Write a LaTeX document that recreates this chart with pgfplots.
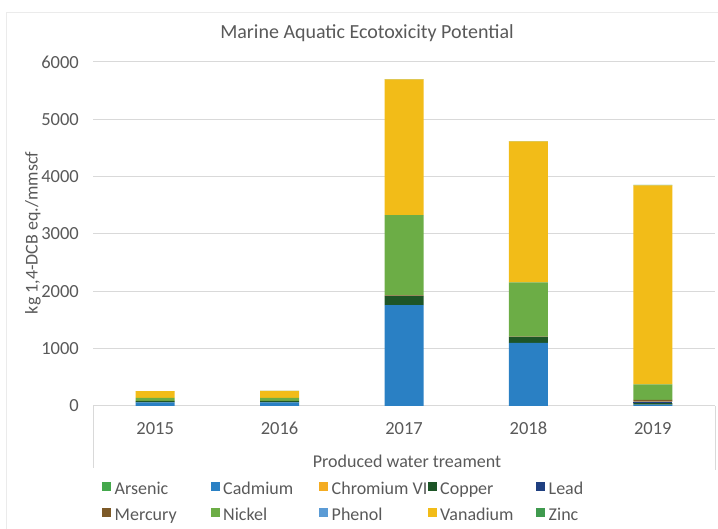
\documentclass[border=0pt]{standalone}
\usepackage{fontspec}
\setmainfont{Carlito}
\usepackage{pgfplots}
\pgfplotsset{compat=1.18}

\definecolor{txtgray}{HTML}{595959}
\definecolor{gridgray}{HTML}{D9D9D9}
\definecolor{cArsenic}{HTML}{44A84C}
\definecolor{cCadmium}{HTML}{2A80C4}
\definecolor{cChromium}{HTML}{F4AC22}
\definecolor{cCopper}{HTML}{1D5527}
\definecolor{cLead}{HTML}{1F3F80}
\definecolor{cMercury}{HTML}{7D5A28}
\definecolor{cNickel}{HTML}{6CAD46}
\definecolor{cPhenol}{HTML}{5B9BD5}
\definecolor{cVanadium}{HTML}{F2BC18}
\definecolor{cZinc}{HTML}{3F9A4E}

\pgfplotsset{
  sqlegend/.style={legend image code/.code={\fill[##1] (0bp,-0.5bp) rectangle (9bp,8.5bp);}},
  seg/.style={fill=#1, draw=none, sqlegend},
}

\begin{document}
\fontsize{18bp}{21bp}\selectfont
\begin{tikzpicture}[x=1bp,y=1bp]
\useasboundingbox (0,0) rectangle (718,529);
% faint chart-area frame
\draw[black!8, line width=0.8bp] (6,0) -- (6,517) -- (718,517);

\begin{axis}[
  at={(93bp,123bp)}, anchor=south west,
  width=622bp, height=344bp, scale only axis,
  ybar stacked, bar width=39bp,
  xmin=-0.5, xmax=4.5, ymin=0, ymax=6000,
  xtick={0,1,2,3,4},
  xticklabels={2015,2016,2017,2018,2019},
  ytick={0,1000,...,6000},
  axis line style={draw=none},
  major tick length=0pt,
  ymajorgrids, xmajorgrids=false,
  major grid style={draw=gridgray, line width=1bp},
  /pgf/number format/assume math mode=true,
  /pgf/number format/1000 sep={},
  tick label style={text=txtgray, font=\fontsize{18.5bp}{21bp}\selectfont},
  yticklabel style={anchor=east, inner sep=0pt, xshift=-14bp},
  xticklabel style={anchor=center, inner sep=0pt, yshift=-22.5bp},
  legend columns=5,
  legend style={
    at={(rel axis cs:0.0145,-0.2209)}, anchor=north west,
    draw=none, fill=none, inner sep=0pt,
    font=\fontsize{18bp}{21bp}\selectfont,
    text=txtgray,
    nodes={inner sep=0pt},
    row sep=9bp,
    /tikz/every odd column/.append style={column sep=3.5bp},
    /tikz/every even column/.append style={column sep=0bp},
  },
  legend cell align=left,
  every axis legend/.append style={
    nodes={text height=12bp, text depth=4bp}},
]
% stacked segments, one series per substance
\addplot+[seg=cArsenic]  coordinates {(0,0) (1,0) (2,0) (3,0) (4,0)};
\addlegendentry{\makebox[96bp][l]{Arsenic}}
\addplot+[seg=cCadmium]  coordinates {(0,65) (1,65) (2,1760) (3,1100) (4,25)};
\addlegendentry{\makebox[96bp][l]{Cadmium}}
\addplot+[seg=cChromium] coordinates {(0,0) (1,0) (2,0) (3,0) (4,0)};
\addlegendentry{\makebox[96bp][l]{Chromium VI}}
\addplot+[seg=cCopper]   coordinates {(0,20) (1,20) (2,155) (3,100) (4,25)};
\addlegendentry{\makebox[96bp][l]{Copper}}
\addplot+[seg=cLead]     coordinates {(0,0) (1,0) (2,0) (3,0) (4,25)};
\addlegendentry{\makebox[96bp][l]{Lead}}
\addplot+[seg=cMercury]  coordinates {(0,3) (1,3) (2,15) (3,10) (4,30)};
\addlegendentry{\makebox[96bp][l]{Mercury}}
\addplot+[seg=cNickel]   coordinates {(0,55) (1,55) (2,1400) (3,945) (4,270)};
\addlegendentry{\makebox[96bp][l]{Nickel}}
\addplot+[seg=cPhenol]   coordinates {(0,0) (1,0) (2,0) (3,0) (4,0)};
\addlegendentry{\makebox[96bp][l]{Phenol}}
\addplot+[seg=cVanadium] coordinates {(0,115) (1,120) (2,2365) (3,2460) (4,3475)};
\addlegendentry{\makebox[96bp][l]{Vanadium}}
\addplot+[seg=cZinc]     coordinates {(0,2) (1,2) (2,5) (3,5) (4,5)};
\addlegendentry{\makebox[96bp][l]{Zinc}}
\end{axis}

% category box edges below the plot
\draw[gridgray, line width=1bp] (93,123) -- (93,61);
\draw[gridgray, line width=1bp] (715,123) -- (715,59);

\node[text=txtgray, font=\fontsize{20bp}{24bp}\selectfont] at (367,496) {Marine Aquatic Ecotoxicity Potential};
\node[text=txtgray, rotate=90] at (33,296) {kg 1,4-DCB eq./mmscf};
\node[text=txtgray] at (407,68) {Produced water treament};
\end{tikzpicture}
\end{document}
